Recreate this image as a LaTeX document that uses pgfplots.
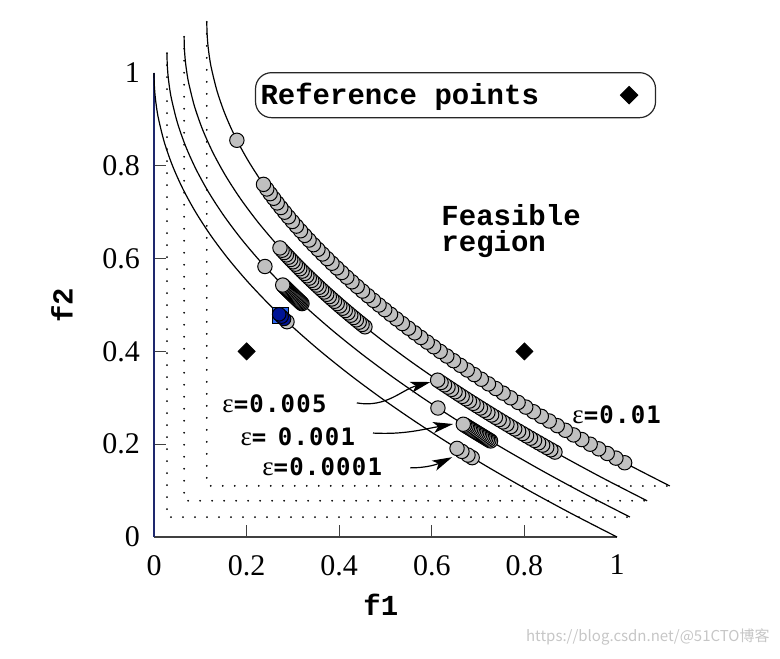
\documentclass[border=0pt]{standalone}
\usepackage{pgfplots}
\pgfplotsset{compat=1.18}
\usepackage{pgfplotstable}
\usepackage{fontspec}
\usetikzlibrary{arrows.meta}
\setmainfont{Liberation Serif}
\newfontfamily\cmono{Liberation Mono}
\newfontfamily\smono[LetterSpace=5]{DejaVu Sans Mono}
\newfontfamily\cjk{Noto Sans CJK SC}
\newcommand\labfont{\cmono\bfseries\fontsize{14.5}{16}\selectfont}
\newcommand\epsl[1]{{\fontsize{13.5}{15}\selectfont ε}{\smono\bfseries\fontsize{12}{14}\selectfont #1}}
\definecolor{ptgray}{RGB}{192,192,192}
\definecolor{yaxcol}{RGB}{30,40,110}
\definecolor{selblue}{RGB}{40,100,240}
\definecolor{darkblue}{RGB}{0,20,150}

% ZDT1-shaped front (local coordinates)
\pgfplotstableread{
f1 f2
0 1
0.000625 0.975
0.0025 0.95
0.005625 0.925
0.01 0.9
0.0225 0.85
0.04 0.8
0.0625 0.75
0.09 0.7
0.1225 0.65
0.16 0.6
0.2025 0.55
0.25 0.5
0.3025 0.45
0.36 0.4
0.4225 0.35
0.49 0.3
0.5625 0.25
0.64 0.2
0.7225 0.15
0.81 0.1
0.9025 0.05
1 0
}\front

\pgfplotstableread{
f1 f2
0 1
0 0
1 0
}\Lshape

% eps = 0.01 (outermost front)
\pgfplotstableread{
f1 f2
0.9025 0.05
0.8836 0.06
0.8649 0.07
0.8464 0.08
0.8281 0.09
0.81 0.10
0.7921 0.11
0.7744 0.12
0.7569 0.13
0.7396 0.14
0.7225 0.15
0.7056 0.16
0.6889 0.17
0.6724 0.18
0.6561 0.19
0.64 0.20
0.6241 0.21
0.6084 0.22
0.5929 0.23
0.5776 0.24
0.5625 0.25
0.5476 0.26
0.5329 0.27
0.5184 0.28
0.5041 0.29
0.49 0.30
0.4761 0.31
0.4624 0.32
0.4489 0.33
0.4356 0.34
0.4225 0.35
0.4096 0.36
0.3969 0.37
0.3844 0.38
0.3721 0.39
0.36 0.40
0.3481 0.41
0.3364 0.42
0.3249 0.43
0.3136 0.44
0.3025 0.45
0.2916 0.46
0.2809 0.47
0.2704 0.48
0.2601 0.49
0.25 0.50
0.2401 0.51
0.2304 0.52
0.2209 0.53
0.2116 0.54
0.2025 0.55
0.1936 0.56
0.1849 0.57
0.1764 0.58
0.1681 0.59
0.16 0.60
0.1521 0.61
0.1444 0.62
0.1369 0.63
0.1296 0.64
0.1225 0.65
0.065 0.745
}\epsA

% eps = 0.005
\pgfplotstableread{
f1 f2
0.801025 0.105
0.7921 0.11
0.783225 0.115
0.7744 0.12
0.765625 0.125
0.7569 0.13
0.748225 0.135
0.7396 0.14
0.731025 0.145
0.7225 0.15
0.714025 0.155
0.7056 0.16
0.697225 0.165
0.6889 0.17
0.680625 0.175
0.6724 0.18
0.664225 0.185
0.6561 0.19
0.648025 0.195
0.64 0.2
0.632025 0.205
0.6241 0.21
0.616225 0.215
0.6084 0.22
0.600625 0.225
0.5929 0.23
0.585225 0.235
0.5776 0.24
0.570025 0.245
0.5625 0.25
0.555025 0.255
0.5476 0.26
0.390625 0.375
0.3844 0.38
0.378225 0.385
0.3721 0.39
0.366025 0.395
0.36 0.4
0.354025 0.405
0.3481 0.41
0.342225 0.415
0.3364 0.42
0.330625 0.425
0.3249 0.43
0.319225 0.435
0.3136 0.44
0.308025 0.445
0.3025 0.45
0.297025 0.455
0.2916 0.46
0.286225 0.465
0.2809 0.47
0.275625 0.475
0.2704 0.48
0.265225 0.485
0.2601 0.49
0.255025 0.495
0.25 0.5
0.245025 0.505
0.2401 0.51
0.235225 0.515
0.2304 0.52
0.225625 0.525
0.2209 0.53
0.216225 0.535
0.2116 0.54
0.207025 0.545
}\epsB

% eps = 0.001
\pgfplotstableread{
f1 f2
0.698896 0.164
0.695556 0.166
0.692224 0.168
0.6889 0.17
0.685584 0.172
0.682276 0.174
0.678976 0.176
0.675684 0.178
0.6724 0.18
0.669124 0.182
0.665856 0.184
0.662596 0.186
0.659344 0.188
0.6561 0.19
0.652864 0.192
0.649636 0.194
0.646416 0.196
0.643204 0.198
0.64 0.2
0.585225 0.235
0.2916 0.46
0.289444 0.462
0.287296 0.464
0.285156 0.466
0.283024 0.468
0.2809 0.47
0.278784 0.472
0.276676 0.474
0.274576 0.476
0.272484 0.478
0.2704 0.48
0.268324 0.482
0.266256 0.484
0.264196 0.486
0.262144 0.488
0.2601 0.49
0.258064 0.492
0.256036 0.494
0.254016 0.496
0.252004 0.498
0.25 0.5
0.2116 0.54
}\epsC

% eps = 0.0001 (innermost front)
\pgfplotstableread{
f1 f2
0.687241 0.171
0.678152 0.1765
0.66504 0.1845
0.654481 0.191
0.287296 0.464
}\epsD

\pgfplotstableread{
f1 f2
0.2809 0.47
0.275625 0.475
0.2704 0.48
}\epsDblue

\begin{document}
\begin{tikzpicture}
\useasboundingbox (-77pt,-60.5pt) rectangle (313pt,268.5pt);
\begin{axis}[
  scale only axis, width=231.5pt, height=232pt,
  xmin=0, xmax=1, ymin=0, ymax=1, clip=false,
  axis x line*=bottom, axis y line*=left,
  x axis line style={-, black!75, line width=0.8pt},
  y axis line style={-, yaxcol, line width=0.8pt},
  xtick={0.2,0.4,0.6,0.8}, ytick={0.2,0.4,0.6,0.8},
  extra x ticks={0,1}, extra y ticks={0,1},
  extra tick style={major tick length=0pt},
  major tick length=6pt,
  tick align=inside,
  tick style={black!75, line width=0.6pt},
  /pgf/number format/assume math mode=true,
  ticklabel style={font=\fontsize{15}{18}\selectfont},
  xticklabel style={yshift=-5.5pt},
  yticklabel style={xshift=-3.5pt},
  legend plot pos=right,
  legend style={at={(0.218,1.002)}, anchor=north west, draw=black!85,
    line width=0.6pt, rounded corners=8pt, inner xsep=2.5pt, inner ysep=0pt,
    font=\labfont, nodes={inner sep=0pt, minimum height=22.5pt}},
  legend image code/.code={\path[draw=none,sharp corners,mark repeat=2,mark phase=2,#1]
     plot coordinates {(0pt,0pt) (4.3pt,0pt) (8.6pt,0pt)}; \path[draw=none] (0pt,0pt) -- (15pt,0pt);},
]
% reference points
\addplot[only marks, mark=square*, mark size=3pt, mark options={rotate=45, fill=black, draw=black}]
  coordinates {(0.2,0.4) (0.8,0.4)};
\addlegendentry{\makebox[180pt][l]{Reference points}}

% dotted shifted axes
\addplot[black, line width=1pt, line cap=round, dash pattern=on 0pt off 6pt]
  table[x expr=\thisrow{f1}+0.028, y expr=\thisrow{f2}+0.043]{\Lshape};
\addplot[black, line width=1pt, line cap=round, dash pattern=on 0pt off 6pt]
  table[x expr=\thisrow{f1}+0.065, y expr=\thisrow{f2}+0.078]{\Lshape};
\addplot[black, line width=1pt, line cap=round, dash pattern=on 0pt off 6pt]
  table[x expr=\thisrow{f1}+0.114, y expr=\thisrow{f2}+0.110]{\Lshape};

% fronts
\addplot[black, line width=0.6pt, smooth] table[x=f1, y=f2]{\front};
\addplot[black, line width=0.6pt, smooth]
  table[x expr=\thisrow{f1}+0.028, y expr=\thisrow{f2}+0.043]{\front};
\addplot[black, line width=0.6pt, smooth]
  table[x expr=\thisrow{f1}+0.065, y expr=\thisrow{f2}+0.078]{\front};
\addplot[black, line width=0.6pt, smooth]
  table[x expr=\thisrow{f1}+0.114, y expr=\thisrow{f2}+0.110]{\front};

% archive points
\addplot[only marks, mark=*, mark size=3.6pt, mark options={fill=ptgray, draw=black, line width=0.5pt}]
  table[x expr=\thisrow{f1}+0.114, y expr=\thisrow{f2}+0.110]{\epsA};
\addplot[only marks, mark=*, mark size=3.6pt, mark options={fill=ptgray, draw=black, line width=0.5pt}]
  table[x expr=\thisrow{f1}+0.065, y expr=\thisrow{f2}+0.078]{\epsB};
\addplot[only marks, mark=*, mark size=3.6pt, mark options={fill=ptgray, draw=black, line width=0.5pt}]
  table[x expr=\thisrow{f1}+0.028, y expr=\thisrow{f2}+0.043]{\epsC};
\addplot[only marks, mark=*, mark size=3.6pt, mark options={fill=ptgray, draw=black, line width=0.5pt}]
  table[x=f1, y=f2]{\epsD};
\addplot[only marks, mark=square*, mark size=3.9pt, mark options={fill=selblue, draw=none}]
  coordinates {(0.273,0.477)};
\addplot[only marks, mark=*, mark size=3.4pt, mark options={fill=darkblue, draw=black, line width=0.5pt}]
  table[x=f1, y=f2]{\epsDblue};

% labels
\node[font=\labfont] at (axis cs:0.490,-0.147) {f1};
\node[font=\labfont, rotate=90] at (axis cs:-0.199,0.5) {f2};
\node[font=\cmono\bfseries\fontsize{14.5}{13}\selectfont, anchor=north west, inner sep=0pt, align=left] at (axis cs:0.620,0.7185)
  {Feasible\\region};

\node[anchor=west, inner sep=0pt] at (axis cs:0.147,0.2866) {\epsl{=0.005}};
\node[anchor=west, inner sep=0pt] at (axis cs:0.186,0.2155) {\epsl{=\hspace{-2pt} 0.001}};
\node[anchor=west, inner sep=0pt] at (axis cs:0.233,0.151) {\epsl{=0.0001}};
\node[anchor=west, inner sep=0pt] at (axis cs:0.903,0.263) {\epsl{=0.01}};

\draw[-{Stealth[length=10pt,width=5.5pt,inset=2.5pt]}, line width=0.6pt]
  (axis cs:0.438,0.289) to[out=-10,in=195] (axis cs:0.597,0.334);
\draw[-{Stealth[length=10pt,width=5.5pt,inset=2.5pt]}, line width=0.6pt]
  (axis cs:0.473,0.224) to[out=-3,in=190] (axis cs:0.646,0.2435);
\draw[-{Stealth[length=10pt,width=5.5pt,inset=2.5pt]}, line width=0.6pt]
  (axis cs:0.553,0.149) to[out=0,in=205] (axis cs:0.644,0.172);
\end{axis}
\node[anchor=east, inner sep=0pt, text=gray!45, font=\cjk\fontsize{7.5}{9}\selectfont] at (308pt,-50pt) {https://blog.csdn.net/@51CTO博客};
\end{tikzpicture}
\end{document}
